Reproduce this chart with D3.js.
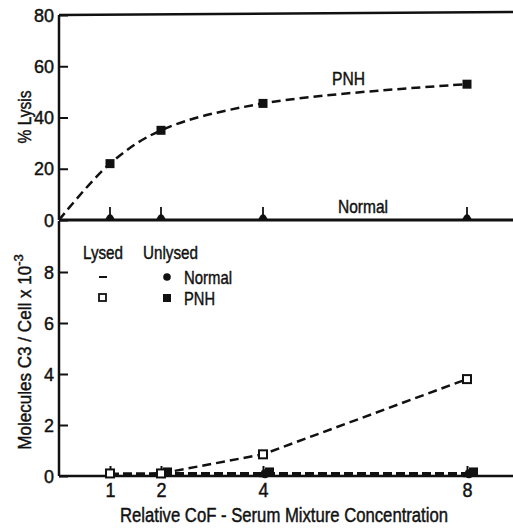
<!DOCTYPE html>
<html><head><meta charset="utf-8">
<script src="https://cdn.jsdelivr.net/npm/d3@7"></script>
<style>
body{margin:0;background:#fff;}
text{font-family:"Liberation Sans",Arial,sans-serif;fill:#111;stroke:#111;stroke-width:0.45px;}
</style></head>
<body><svg id="c" width="513" height="529"></svg>
<script>
// ---- data ----
const concentrations = [1, 2, 4, 8];
const lysisPNH = [22, 35, 45.5, 53];          // % lysis, PNH cells
const lysisNormal = [0, 0, 0, 0];             // % lysis, normal cells
const c3LysedPNH = [0.1, 0.1, 0.85, 3.8];     // molecules C3/cell x10^-3
const c3LysedNormal = [0, 0, 0, 0];
const c3UnlysedPNH = [0.08, 0.1, 0.1, 0.1];
const c3UnlysedNormal = [0.04, 0.05, 0.05, 0.05];
const xTicks = [1, 2, 4, 8];
const yTicksTop = [0, 20, 40, 60, 80];
const yTicksBottom = [0, 2, 4, 6, 8];

const svg = d3.select("#c");
const ink = "#111";
const x = d3.scaleLinear().domain([0, 8]).range([59, 467]);
const xEnd = 513;
const yT = d3.scaleLinear().domain([0, 80]).range([220, 15]);
const yB = d3.scaleLinear().domain([0, 10]).range([476, 221]);

function fit(sel, w){ return sel.attr("textLength", w).attr("lengthAdjust", "spacingAndGlyphs"); }

// ---- axes ----
function styleAxis(g, fs){
  g.select(".domain").attr("stroke", ink).attr("stroke-width", 2.5);
  g.selectAll(".tick line").attr("stroke", ink).attr("stroke-width", 2);
  g.selectAll(".tick text").attr("fill", ink).style("font-size", fs + "px")
   .style("font-family", '"Liberation Sans",Arial,sans-serif');
}
const gyT = svg.append("g").attr("transform", `translate(${x(0)},0)`)
  .call(d3.axisLeft(yT).tickValues(yTicksTop).tickSize(-9).tickSizeOuter(0).tickPadding(5));
styleAxis(gyT, 19);
gyT.selectAll(".tick text").each(function(){ fit(d3.select(this), this.textContent.length * 10); });
const gyB = svg.append("g").attr("transform", `translate(${x(0)},0)`)
  .call(d3.axisLeft(yB).tickValues(yTicksBottom).tickSize(-9).tickSizeOuter(0).tickPadding(5));
styleAxis(gyB, 19);
gyB.selectAll(".tick text").each(function(){ fit(d3.select(this), 10); });
gyB.select(".domain").attr("d", `M0,${yB(10)}V${yB(0)}`);
gyT.select(".domain").attr("d", `M0,${yT(80)}V${yT(0)}`);

const gx = svg.append("g").attr("transform", `translate(0,${yB(0)})`)
  .call(d3.axisBottom(x).tickValues(xTicks).tickSize(-10).tickSizeOuter(0).tickPadding(7).tickFormat(d3.format("d")));
styleAxis(gx, 20);
gx.selectAll(".tick text").each(function(){ fit(d3.select(this), 10); });
gx.select(".domain").attr("d", `M${x(0)},0H${xEnd}`);

// top frame line and panel separator (normal line at 0)
svg.append("line").attr("x1", x(0)).attr("x2", xEnd).attr("y1", yT(80)).attr("y2", yT(80)-3)
  .attr("stroke", ink).attr("stroke-width", 2.5);
svg.append("line").attr("x1", x(0)).attr("x2", xEnd).attr("y1", yT(0)).attr("y2", yT(0))
  .attr("stroke", ink).attr("stroke-width", 3);

// ---- top panel ----
const pnhPts = [[0, 0]].concat(concentrations.map((c, i) => [c, lysisPNH[i]]));
svg.append("path").datum(pnhPts)
  .attr("d", d3.line().x(d => x(d[0])).y(d => yT(d[1])).curve(d3.curveCatmullRom.alpha(0.5)))
  .attr("fill", "none").attr("stroke", ink).attr("stroke-width", 2.5).attr("stroke-dasharray", "9,5");
svg.selectAll(".pnhT").data(concentrations).join("rect")
  .attr("x", d => x(d) - 4.5).attr("y", (d, i) => yT(lysisPNH[i]) - 4.5)
  .attr("width", 9).attr("height", 9).attr("fill", ink);
// normal markers with error bars
svg.selectAll(".nErr").data(concentrations).join("line")
  .attr("x1", d => x(d)).attr("x2", d => x(d))
  .attr("y1", (d, i) => yT(lysisNormal[i]) - 13).attr("y2", (d, i) => yT(lysisNormal[i]))
  .attr("stroke", ink).attr("stroke-width", 1.8);
svg.selectAll(".nDot").data(concentrations).join("path")
  .attr("d", (d, i) => { const cx = x(d), cy = yT(lysisNormal[i]); return `M${cx-5},${cy}Q${cx},${cy-12} ${cx+5},${cy}Z`; })
  .attr("fill", ink);
fit(svg.append("text").attr("x", 332).attr("y", 85).style("font-size", "19px").text("PNH"), 33);
fit(svg.append("text").attr("x", 338).attr("y", 213).style("font-size", "19px").text("Normal"), 50);

// ---- bottom panel ----
const unlysedPts = concentrations.map((c, i) => [c, (c3UnlysedPNH[i] + c3UnlysedNormal[i]) / 2]);
svg.append("path").datum(unlysedPts)
  .attr("d", d3.line().x(d => x(d[0])).y(d => yB(d[1])))
  .attr("fill", "none").attr("stroke", ink).attr("stroke-width", 4).attr("stroke-dasharray", "9,4");
const lysedPts = concentrations.map((c, i) => [c, c3LysedPNH[i]]).slice(1);
svg.append("path").datum(lysedPts)
  .attr("d", d3.line().x(d => x(d[0])).y(d => yB(d[1])))
  .attr("fill", "none").attr("stroke", ink).attr("stroke-width", 2.5).attr("stroke-dasharray", "9,5");
// lysed normal dashes
svg.selectAll(".lnD").data(concentrations).join("line")
  .attr("x1", d => x(d) - 4).attr("x2", d => x(d) + 4)
  .attr("y1", (d, i) => yB(c3LysedNormal[i])).attr("y2", (d, i) => yB(c3LysedNormal[i]))
  .attr("stroke", ink).attr("stroke-width", 2.5);
// unlysed normal circles & PNH squares
svg.selectAll(".unC").data(concentrations.slice(1)).join("circle")
  .attr("cx", d => x(d) + 2).attr("cy", (d) => yB(c3UnlysedNormal[concentrations.indexOf(d)]) - 1)
  .attr("r", 4.5).attr("fill", ink);
svg.selectAll(".upS").data(concentrations.slice(1)).join("rect")
  .attr("x", d => x(d) + 2).attr("y", d => yB(c3UnlysedPNH[concentrations.indexOf(d)]) - 6)
  .attr("width", 9).attr("height", 8).attr("fill", ink);
// lysed PNH open squares
svg.selectAll(".lpS").data(concentrations).join("rect")
  .attr("x", d => x(d) - 4).attr("y", (d, i) => yB(c3LysedPNH[i]) - 4)
  .attr("width", 8).attr("height", 8).attr("fill", "#fff").attr("stroke", ink).attr("stroke-width", 2);

// legend
const lg = svg.append("g");
fit(lg.append("text").attr("x", 83).attr("y", 259).style("font-size", "19px").text("Lysed"), 40);
fit(lg.append("text").attr("x", 143).attr("y", 259).style("font-size", "19px").text("Unlysed"), 55);
lg.append("line").attr("x1", 99).attr("x2", 107).attr("y1", 277).attr("y2", 277).attr("stroke", ink).attr("stroke-width", 2);
lg.append("rect").attr("x", 99).attr("y", 294).attr("width", 7).attr("height", 7).attr("fill", "#fff").attr("stroke", ink).attr("stroke-width", 1.8);
lg.append("circle").attr("cx", 167).attr("cy", 277).attr("r", 3.8).attr("fill", ink);
lg.append("rect").attr("x", 163).attr("y", 294).attr("width", 8).attr("height", 8).attr("fill", ink);
fit(lg.append("text").attr("x", 184).attr("y", 284).style("font-size", "19px").text("Normal"), 48);
fit(lg.append("text").attr("x", 184).attr("y", 305).style("font-size", "19px").text("PNH"), 31);

// axis titles
fit(svg.append("text").attr("transform", "translate(31,117) rotate(-90)").attr("text-anchor", "middle")
  .style("font-size", "19px").text("% Lysis"), 53);
const yl = svg.append("text").attr("transform", "translate(31,352) rotate(-90)").attr("text-anchor", "middle")
  .style("font-size", "19px");
fit(yl.append("tspan").text("Molecules  C3 / Cell  x 10"), 184);
yl.append("tspan").attr("dy", -8).style("font-size", "13px").text("-3");
fit(svg.append("text").attr("x", 120).attr("y", 522)
  .style("font-size", "20px").text("Relative  CoF - Serum  Mixture  Concentration"), 328);
</script></body></html>
